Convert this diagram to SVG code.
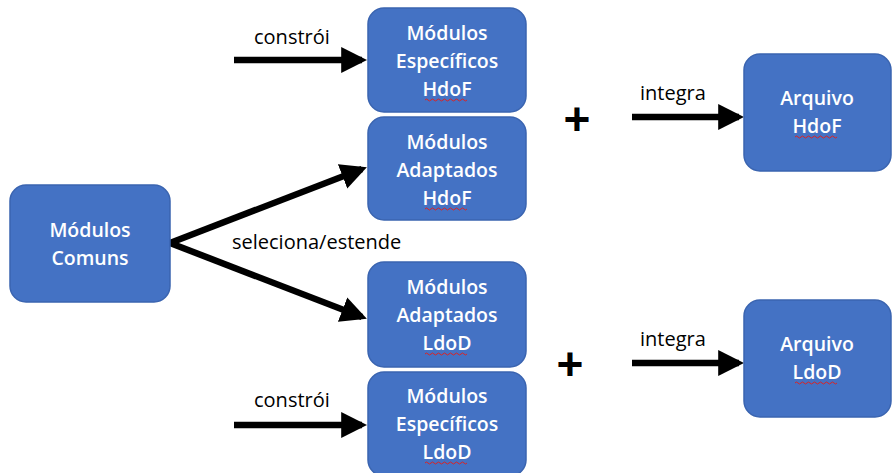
<svg xmlns="http://www.w3.org/2000/svg" width="893" height="473" viewBox="0 0 893 473">
<style>
.box{fill:#4472C4;stroke:#3A64B0;stroke-width:1.5}
.t{font-family:"Open Sans","Liberation Sans",sans-serif;font-size:19.5px;font-weight:600;fill:#fff;text-anchor:middle}
.l{font-family:"Open Sans","Liberation Sans",sans-serif;font-size:20px;fill:#000}
.c{stroke:#000;stroke-width:6.5;fill:none}
.sq{stroke:#d22;stroke-width:1;fill:none}
.plus{font-family:"Liberation Sans",sans-serif;font-size:46px;font-weight:bold;fill:#000;text-anchor:middle}
</style>
<defs>
<marker id="ah" markerWidth="4" markerHeight="4" refX="3.2" refY="2" orient="auto" markerUnits="strokeWidth">
<path d="M0,0 L4,2 L0,4 Z" fill="#000"/>
</marker>
</defs>
<g id="connectors">
<path class="c" d="M234,60 L362,60" marker-end="url(#ah)"/>
<path class="c" d="M234,425 L362,425" marker-end="url(#ah)"/>
<path class="c" d="M170,243 L362,169" marker-end="url(#ah)"/>
<path class="c" d="M170,243 L362,317" marker-end="url(#ah)"/>
<path class="c" d="M632,117 L739,117" marker-end="url(#ah)"/>
<path class="c" d="M632,363 L739,363" marker-end="url(#ah)"/>
<text class="l" x="254" y="44">constrói</text>
<text class="l" x="254" y="407">constrói</text>
<text class="l" x="232" y="249">seleciona/estende</text>
<text class="l" x="640" y="100">integra</text>
<text class="l" x="640" y="346">integra</text>
<text class="plus" x="577" y="135">+</text>
<text class="plus" x="570" y="380">+</text>
</g>
<g id="comuns">
<rect class="box" x="10" y="185" width="160" height="117" rx="16"/>
<text class="t" x="90" y="237">Módulos</text>
<text class="t" x="90" y="265">Comuns</text>
</g>
<g id="espHdoF">
<rect class="box" x="368" y="8" width="158" height="104" rx="16"/>
<text class="t" x="447" y="40">Módulos</text>
<text class="t" x="447" y="68">Específicos</text>
<text class="t" x="447" y="96">HdoF</text>
<path class="sq" d="M425,100 q1.5,-2 3,0 t3,0 t3,0 t3,0 t3,0 t3,0 t3,0 t3,0 t3,0 t3,0 t3,0 t3,0 t3,0 t3,0"/>
</g>
<g id="adaHdoF">
<rect class="box" x="368" y="117" width="158" height="103" rx="16"/>
<text class="t" x="447" y="149">Módulos</text>
<text class="t" x="447" y="177">Adaptados</text>
<text class="t" x="447" y="205">HdoF</text>
<path class="sq" d="M425,209 q1.5,-2 3,0 t3,0 t3,0 t3,0 t3,0 t3,0 t3,0 t3,0 t3,0 t3,0 t3,0 t3,0 t3,0 t3,0"/>
</g>
<g id="adaLdoD">
<rect class="box" x="368" y="262" width="158" height="105" rx="16"/>
<text class="t" x="447" y="294">Módulos</text>
<text class="t" x="447" y="322">Adaptados</text>
<text class="t" x="447" y="350">LdoD</text>
<path class="sq" d="M425,354 q1.5,-2 3,0 t3,0 t3,0 t3,0 t3,0 t3,0 t3,0 t3,0 t3,0 t3,0 t3,0 t3,0 t3,0 t3,0"/>
</g>
<g id="espLdoD">
<rect class="box" x="368" y="372" width="158" height="104" rx="16"/>
<text class="t" x="447" y="403">Módulos</text>
<text class="t" x="447" y="431">Específicos</text>
<text class="t" x="447" y="459">LdoD</text>
<path class="sq" d="M425,463 q1.5,-2 3,0 t3,0 t3,0 t3,0 t3,0 t3,0 t3,0 t3,0 t3,0 t3,0 t3,0 t3,0 t3,0 t3,0"/>
</g>
<g id="arqHdoF">
<rect class="box" x="744" y="54" width="147" height="117" rx="16"/>
<text class="t" x="817" y="105">Arquivo</text>
<text class="t" x="817" y="133">HdoF</text>
<path class="sq" d="M795,137 q1.5,-2 3,0 t3,0 t3,0 t3,0 t3,0 t3,0 t3,0 t3,0 t3,0 t3,0 t3,0 t3,0 t3,0 t3,0"/>
</g>
<g id="arqLdoD">
<rect class="box" x="744" y="300" width="147" height="117" rx="16"/>
<text class="t" x="817" y="351">Arquivo</text>
<text class="t" x="817" y="379">LdoD</text>
<path class="sq" d="M795,383 q1.5,-2 3,0 t3,0 t3,0 t3,0 t3,0 t3,0 t3,0 t3,0 t3,0 t3,0 t3,0 t3,0 t3,0 t3,0"/>
</g>
</svg>
